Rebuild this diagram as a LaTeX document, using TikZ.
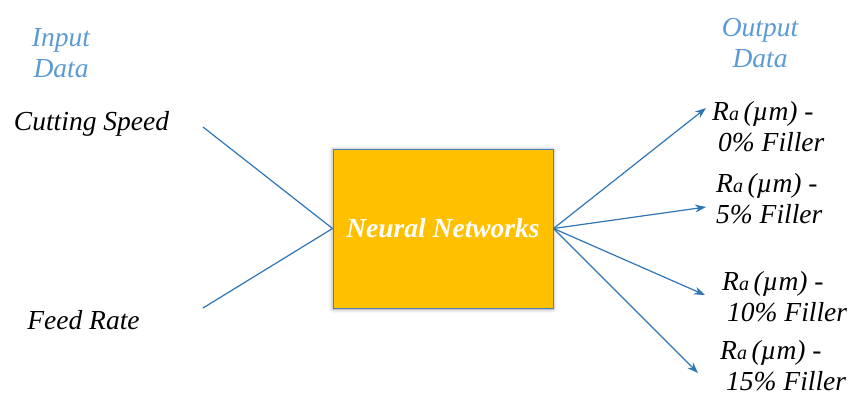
\documentclass[tikz,border=0pt]{standalone}
\usepackage{fontspec}
\setmainfont{Liberation Serif}
\usetikzlibrary{arrows.meta,shadows.blur}
\definecolor{linkblue}{HTML}{2E75B6}
\definecolor{headblue}{HTML}{5B9BD5}
\definecolor{boxfill}{HTML}{FFC000}
\definecolor{boxedge}{HTML}{4A7EBB}
\newcommand{\raum}{R{\fontsize{20}{22}\selectfont a}\,(µm) -}
\begin{document}
\begin{tikzpicture}[x=1pt,y=-1pt,
  lbl/.style={font=\fontsize{27.5}{31}\selectfont\itshape, inner sep=0pt, align=left},
  head/.style={lbl, text=headblue, align=center},
  link/.style={draw=linkblue, line width=1.2pt},
  arr/.style={link, -{Stealth[length=11pt,width=8pt]}}]
  \useasboundingbox (0,0) rectangle (851,397);
  % central block
  \node[draw=boxedge, line width=1pt, fill=boxfill, minimum width=220pt, minimum height=159pt,
        blur shadow={shadow blur steps=6, shadow xshift=0pt, shadow yshift=-1pt, shadow blur radius=4pt},
        font=\fontsize{27.5}{30}\selectfont\bfseries\itshape, text=white, inner sep=0pt]
        (nn) at (443,228.5) {Neural Networks};
  % headings
  \node[head] (inhead) at (61,53) {Input\\Data};
  \node[head] (outhead) at (760,43) {Output\\Data};
  % inputs
  \node[lbl] (cs) at (91.5,124) {Cutting Speed};
  \node[lbl] (fr) at (83.5,320) {Feed Rate};
  \coordinate (csend) at (203,127);
  \coordinate (frend) at (203,308);
  \draw[link] (csend) -- (nn.west);
  \draw[link] (frend) -- (nn.west);
  % outputs
  \node[lbl, anchor=west] (o0) at (712,127) {\raum\\\hspace*{6pt}0\% Filler};
  \node[lbl, anchor=west] (o5) at (716,199) {\raum\\5\% Filler};
  \node[lbl, anchor=west] (o10) at (722,297) {\raum\\\hspace*{5pt}10\% Filler};
  \node[lbl, anchor=west] (o15) at (720,366) {\raum\\\hspace*{6pt}15\% Filler};
  \coordinate (t0) at (706,108);
  \coordinate (t5) at (706,207);
  \coordinate (t10) at (705,295);
  \coordinate (t15) at (698,373);
  \draw[arr] (nn.east) -- (t0);
  \draw[arr] (nn.east) -- (t5);
  \draw[arr] (nn.east) -- (t10);
  \draw[arr] (nn.east) -- (t15);
\end{tikzpicture}
\end{document}
